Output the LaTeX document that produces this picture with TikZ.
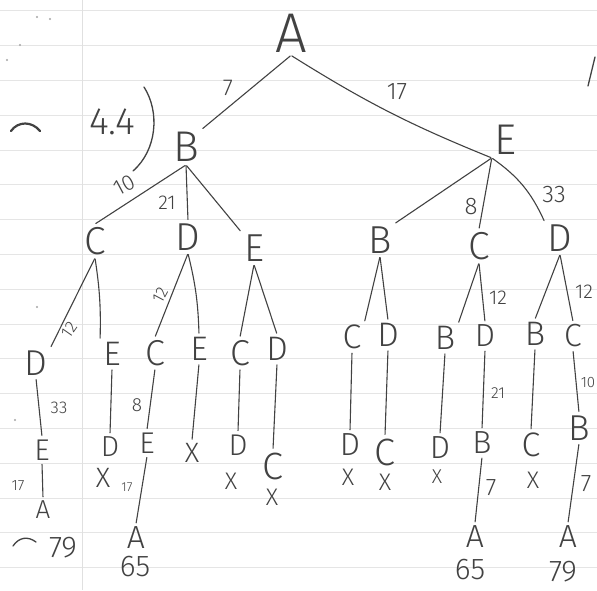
\documentclass[tikz,border=0pt]{standalone}
\usepackage{fontspec}
\newfontfamily\handfont{Fira Sans}[UprightFont={* Light}]
\definecolor{ink}{RGB}{66,66,66}

\begin{document}
\begin{tikzpicture}[x=1pt, y=-1pt,
    letter/.style={inner sep=3pt, text=ink},
    sz/.style={font=\handfont\fontsize{#1}{#1}\selectfont},
    weight/.style={inner sep=0pt, text=ink},
    branch/.style={draw=ink, line width=1.1pt, line cap=round, shorten <=1pt, shorten >=1pt},
    rule/.style={draw=black!10, line width=0.7pt},
    pen/.style={draw=ink, line width=1.3pt, line cap=round}
]
    \useasboundingbox (0,0) rectangle (597,590);
    \clip (0,0) rectangle (597,590);
    % ruled paper
    \fill[white] (0,0) rectangle (597,590);
    \foreach \k in {0,...,16}
        \draw[rule] (0,10.8+34.8*\k) -- (597,10.8+34.8*\k);
    \draw[draw=black!12, line width=0.8pt] (82,0) -- (82,590);

    % root and first level
    \node[letter, sz=56] (A)   at (291,33)  {A};
    \node[letter, sz=43] (bB)  at (186,147) {B};
    \node[letter, sz=43] (bE)  at (506,140) {E};

    % second level
    \node[letter, sz=39] (cC)  at (95,241)  {C};
    \node[letter, sz=39] (cD)  at (188,237) {D};
    \node[letter, sz=39] (cE)  at (254,248) {E};
    \node[letter, sz=39] (cB)  at (380,240) {B};
    \node[letter, sz=39] (cC2) at (479,246) {C};
    \node[letter, sz=39] (cD2) at (560,238) {D};

    % third level
    \node[letter, sz=36] (dD)  at (36,363)  {D};
    \node[letter, sz=34] (dE)  at (112,354) {E};
    \node[letter, sz=36] (dC)  at (155,353) {C};
    \node[letter, sz=34] (dE2) at (199,349) {E};
    \node[letter, sz=36] (dC2) at (240,353) {C};
    \node[letter, sz=34] (dD2) at (277,349) {D};
    \node[letter, sz=34] (dC3) at (352,337) {C};
    \node[letter, sz=34] (dD3) at (388,335) {D};
    \node[letter, sz=34] (dB)  at (445,338) {B};
    \node[letter, sz=32] (dD4) at (485,336) {D};
    \node[letter, sz=34] (dB2) at (535,334) {B};
    \node[letter, sz=32] (dC4) at (573,336) {C};

    % fourth level
    \node[letter, sz=30] (eE)  at (42,450)  {E};
    \node[letter, sz=29] (eD)  at (110,447) {D};
    \node[letter, sz=30] (eE2) at (147,443) {E};
    \node[letter, sz=28] (eX)  at (192,453) {X};
    \node[letter, sz=30] (eD2) at (238,445) {D};
    \node[letter, sz=38] (eC)  at (273,466) {C};
    \node[letter, sz=32] (eD3) at (350,445) {D};
    \node[letter, sz=38] (eC2) at (385,452) {C};
    \node[letter, sz=32] (eD4) at (440,448) {D};
    \node[letter, sz=32] (eB)  at (482,443) {B};
    \node[letter, sz=34] (eC3) at (531,445) {C};
    \node[letter, sz=36] (eB2) at (579,428) {B};

    % dead ends
    \node[letter, sz=28] (xa) at (103,478) {X};
    \node[letter, sz=24] (xb) at (231,481) {X};
    \node[letter, sz=24] (xc) at (272,497) {X};
    \node[letter, sz=24] (xd) at (348,477) {X};
    \node[letter, sz=24] (xe) at (385,482) {X};
    \node[letter, sz=20] (xf) at (437,477) {X};
    \node[letter, sz=24] (xg) at (533,480) {X};

    % back to A, with totals
    \node[letter, sz=26] (fA)  at (43,510)  {A};
    \node[letter, sz=32] (fA2) at (136,538) {A};
    \node[letter, sz=32] (fA3) at (475,537) {A};
    \node[letter, sz=32] (fA4) at (568,537) {A};
    \node[letter, sz=30] (tA)  at (63,548)  {79};
    \node[letter, sz=30] (tB)  at (135,567) {65};
    \node[letter, sz=30] (tC)  at (470,570) {65};
    \node[letter, sz=30] (tD)  at (563,572) {79};

    % branches
    \draw[branch] (A.south) -- (bB.north east);
    \draw[branch] (A.south) to[bend right=5] (bE.south west);
    \draw[branch] (bB.south) -- (cC.north);
    \draw[branch] (bB.south) -- (cD.north);
    \draw[branch] (bB.south) -- (cE.north west);
    \draw[branch] (bE.south west) -- (cB.north east);
    \draw[branch] (bE.south west) -- (cC2.north);
    \draw[branch] (bE.south west) to[bend left=15] (cD2.north west);

    \draw[branch] (cC.south) -- (dD.north east);
    \draw[branch] (cC.south) to[bend left=5] (dE.north west);
    \draw[branch] (cD.south) -- (dC.north);
    \draw[branch] (cD.south) to[bend left=6] (dE2.north);
    \draw[branch] (cE.south) -- (dC2.north);
    \draw[branch] (cE.south) -- (dD2.north);
    \draw[branch] (cB.south) -- (dC3.north east);
    \draw[branch] (cB.south) -- (dD3.north);
    \draw[branch] (cC2.south) -- (dB.north east);
    \draw[branch] (cC2.south) -- (dD4.north);
    \draw[branch] (cD2.south) -- (dB2.north);
    \draw[branch] (cD2.south) -- (dC4.north);

    \foreach \p/\c in {dD/eE, dE/eD, dC/eE2, dE2/eX, dC2/eD2, dD2/eC,
                       dC3/eD3, dD3/eC2, dB/eD4, dD4/eB, dB2/eC3, dC4/eB2,
                       eE/fA, eE2/fA2, eB/fA3, eB2/fA4}
        \draw[branch] (\p.south) -- (\c.north);

    % edge weights
    \node[weight, sz=23] (wAB)  at (228,88)  {7};
    \node[weight, sz=24] (wAE)  at (397,92)  {17};
    \node[weight, sz=22, rotate=28] (wBC) at (124,185) {10};
    \node[weight, sz=20] (wBD)  at (167,203) {21};
    \node[weight, sz=24] (wEC)  at (471,207) {8};
    \node[weight, sz=24] (wED)  at (554,195) {33};
    \node[weight, sz=17, rotate=55] (wCD) at (69,330) {12};
    \node[weight, sz=17, rotate=62] (wDC) at (160,295) {12};
    \node[weight, sz=20] (wCD2) at (498,298) {12};
    \node[weight, sz=20] (wDC2) at (584,292) {12};
    \node[weight, sz=17] (wDE)  at (59,408)  {33};
    \node[weight, sz=19] (wCE)  at (137,405) {8};
    \node[weight, sz=15] (wEA)  at (18,486)  {17};
    \node[weight, sz=13] (wEA2) at (127,487) {17};
    \node[weight, sz=16] (wDB)  at (498,393) {21};
    \node[weight, sz=24] (wBA)  at (491,488) {7};
    \node[weight, sz=24] (wBA2) at (586,484) {7};
    \node[weight, sz=15] (wCB)  at (588,383) {10};

    % problem number
    \node[weight, sz=38] (num) at (112,122) {4.4};
    \draw[pen] (144,87) .. controls (160,112) and (157,150) .. (133,171);

    % stray pen marks
    \draw[pen, line width=2.2pt] (11,131) .. controls (18,121) and (32,121) .. (40,131);
    \draw[pen] (13,546) .. controls (19,537) and (28,536) .. (36,542);
    \draw[pen] (588,86) -- (595,57);
    \foreach \x/\y in {37/17, 50/19, 20/45, 7/60, 37/307, 15/420}
        \fill[black!35] (\x,\y) circle (1.2pt);
\end{tikzpicture}
\end{document}
